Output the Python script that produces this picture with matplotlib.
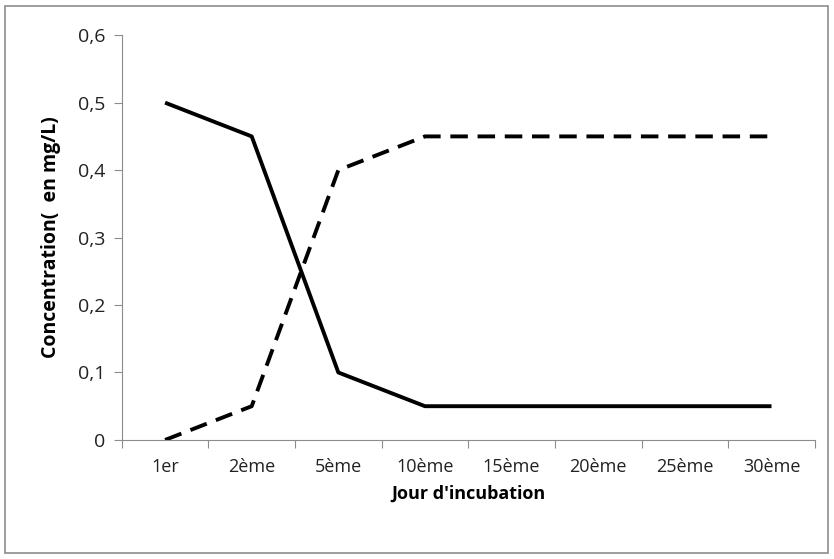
import matplotlib.pyplot as plt
import numpy as np

jours = ["1er", "2ème", "5ème", "10ème", "15ème", "20ème", "25ème", "30ème"]
serie_pleine = [0.5, 0.45, 0.1, 0.05, 0.05, 0.05, 0.05, 0.05]
serie_tirets = [0.0, 0.05, 0.4, 0.45, 0.45, 0.45, 0.45, 0.45]
y_ticks = [0, 0.1, 0.2, 0.3, 0.4, 0.5, 0.6]

plt.rcParams['font.family'] = ['Open Sans', 'DejaVu Sans']

fig = plt.figure(figsize=(8.34, 5.59), dpi=100)
ax = fig.add_axes([0.146, 0.213, 0.831, 0.724])

x = np.arange(len(jours))
ax.plot(x, serie_pleine, color='black', lw=2.8, solid_capstyle='butt')
ax.plot(x, serie_tirets, color='black', lw=2.8, dashes=(4.5, 2.5), dash_capstyle='butt')

grey = '#8c8c8c'
ax.set_xlim(-0.5, len(jours) - 0.5)
ax.set_ylim(0, 0.6)
ax.set_xticks(np.arange(-0.5, len(jours), 1.0))
ax.set_xticklabels([])
ax.set_xticks(x, minor=True)
ax.set_xticklabels(jours, minor=True)
ax.tick_params(axis='x', which='major', length=6, color=grey, direction='out')
ax.tick_params(axis='x', which='minor', length=0, labelsize=13, pad=13, labelcolor='#222222')
ax.set_yticks(y_ticks)
ax.set_yticklabels([("%g" % v).replace('.', ',') for v in y_ticks])
ax.tick_params(axis='y', length=6, color=grey, labelsize=14, pad=6, labelcolor='#222222')

for side in ['top', 'right']:
    ax.spines[side].set_visible(False)
for side in ['left', 'bottom']:
    ax.spines[side].set_color(grey)

ax.set_xlabel("Jour d'incubation", fontsize=13, fontweight='bold', labelpad=6)
ax.set_ylabel("Concentration(  en mg/L)", fontsize=14, fontweight='bold', labelpad=12)

border = plt.Rectangle((0.006, 0.01), 0.987, 0.98, transform=fig.transFigure,
                       fill=False, edgecolor=grey, lw=1.2)
fig.patches.append(border)

plt.savefig("out.png", dpi=100)
